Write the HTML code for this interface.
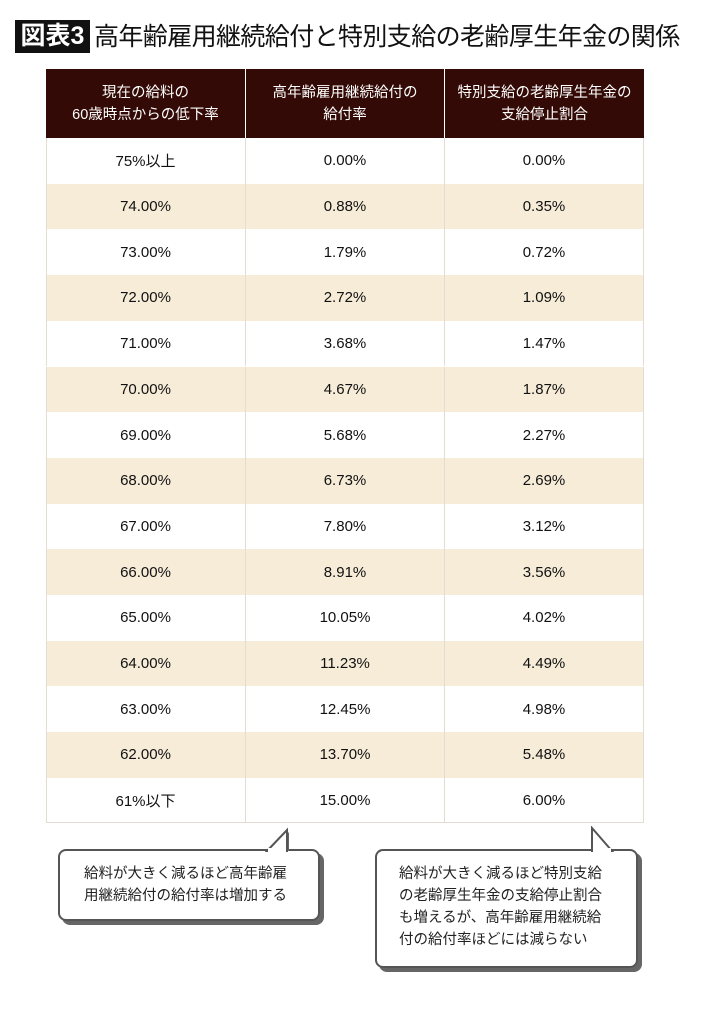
<!DOCTYPE html>
<html><head><meta charset="utf-8">
<style>
body{margin:0;width:710px;height:1015px;background:#fff;position:relative;overflow:hidden;font-family:"Liberation Sans","Noto Sans CJK JP",sans-serif;color:#222}
.abs{position:absolute}
#badge{left:15px;top:20px;width:75px;height:33px;background:#111;color:#fff;font-size:25px;line-height:33px;text-align:center;font-weight:bold}
#title{left:94px;top:19px;font-size:25px;letter-spacing:-0.6px;line-height:36px;color:#111;white-space:nowrap}
.hd{background:#330a06;color:#fff;font-size:14.5px;line-height:22px;display:flex;align-items:center;justify-content:center;text-align:center;box-sizing:border-box}
.cell{font-size:15px;color:#111;display:flex;align-items:center;justify-content:center;box-sizing:border-box;border-right:1px solid #e2ddd2}
.bub{background:#fff;border:2px solid #555;border-radius:8px;box-shadow:4px 4px 0 #666;font-size:14.5px;line-height:22px;box-sizing:border-box;color:#222}
</style></head><body>
<div id="badge" class="abs">図表3</div>
<div id="title" class="abs">高年齢雇用継続給付と特別支給の老齢厚生年金の関係</div>
<div id="table"></div>

<div class="abs bub" style="left:58px;top:849px;width:262px;height:72px;padding:12px 0 0 24px">給料が大きく減るほど高年齢雇<br>用継続給付の給付率は増加する</div>
<svg class="abs" style="left:265px;top:826px" width="40" height="26"><polygon points="6,25 24,6 24,25" fill="#666"/><polygon points="2,25 22,4 22,25" fill="#fff" stroke="#555" stroke-width="2"/><rect x="3" y="22" width="18" height="6" fill="#fff"/></svg>
<div class="abs bub" style="left:375px;top:849px;width:263px;height:119px;padding:12px 0 0 22px">給料が大きく減るほど特別支給<br>の老齢厚生年金の支給停止割合<br>も増えるが、高年齢雇用継続給<br>付の給付率ほどには減らない</div>
<svg class="abs" style="left:580px;top:826px" width="40" height="26"><polygon points="12,2 12,25 32,25" fill="#fff" stroke="#555" stroke-width="2"/><rect x="13" y="22" width="18" height="6" fill="#fff"/></svg>

<script>
const headers=["現在の給料の<br>60歳時点からの低下率","高年齢雇用継続給付の<br>給付率","特別支給の老齢厚生年金の<br>支給停止割合"];
const categories=["75%以上","74.00%","73.00%","72.00%","71.00%","70.00%","69.00%","68.00%","67.00%","66.00%","65.00%","64.00%","63.00%","62.00%","61%以下"];
const benefitRate=[0.00,0.88,1.79,2.72,3.68,4.67,5.68,6.73,7.80,8.91,10.05,11.23,12.45,13.70,15.00];
const stopRate=[0.00,0.35,0.72,1.09,1.47,1.87,2.27,2.69,3.12,3.56,4.02,4.49,4.98,5.48,6.00];
const colX=[46,246,445,644], top0=69, hdH=69, rowH=45.7;
const t=document.getElementById('table');
headers.forEach((h,i)=>{
  const d=document.createElement('div');
  d.className='abs hd';
  d.style.cssText=`left:${colX[i]}px;top:${top0}px;width:${colX[i+1]-colX[i]}px;height:${hdH}px;${i<2?'border-right:1px solid #fff;':''}`;
  d.innerHTML=h;
  
  
  t.appendChild(d);
});
categories.forEach((c,r)=>{
  const vals=[c,benefitRate[r].toFixed(2)+'%',stopRate[r].toFixed(2)+'%'];
  const y=top0+hdH+r*rowH;
  const row=document.createElement('div');
  row.className='abs';
  row.style.cssText=`left:${colX[0]}px;top:${y}px;width:${colX[3]-colX[0]}px;height:${rowH}px;background:${r%2?'#f6ecd8':'#fff'};border-left:1px solid #e2ddd2;box-sizing:border-box;${r==categories.length-1?'border-bottom:1px solid #e2ddd2;':''}`;
  
  
  t.appendChild(row);
  vals.forEach((v,i)=>{
    const d=document.createElement('div');
    d.className='abs cell';
    d.style.cssText=`left:${colX[i]}px;top:${y}px;width:${colX[i+1]-colX[i]}px;height:${rowH}px;`;
    d.textContent=v;
    
    
    t.appendChild(d);
  });
});
</script>
</body></html>
